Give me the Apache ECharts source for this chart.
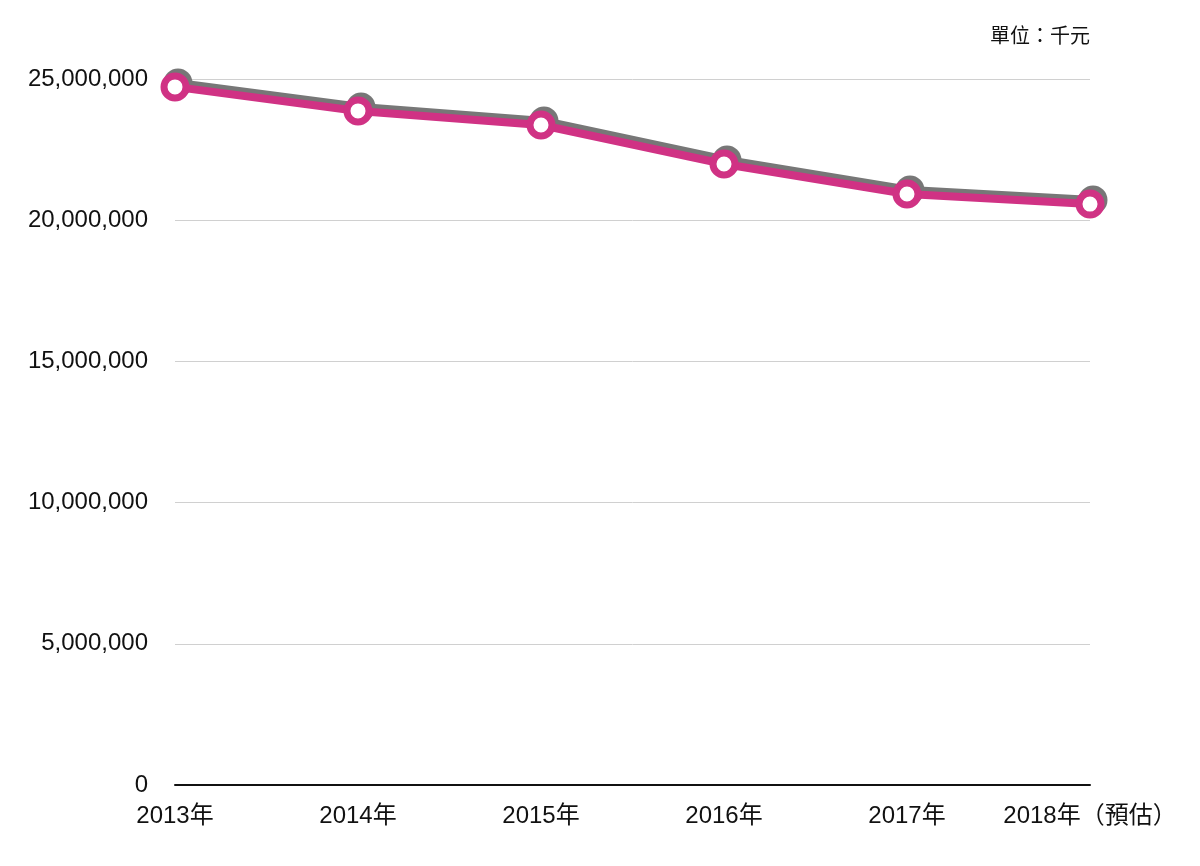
<!DOCTYPE html>
<html><head><meta charset="utf-8">
<script src="https://cdn.jsdelivr.net/npm/echarts@6/dist/echarts.min.js"></script>
<style>html,body{margin:0;padding:0;background:#fff}#c{width:1200px;height:866px}</style>
</head><body><div id="c"></div>
<script>
const categories = ['2013年','2014年','2015年','2016年','2017年','2018年（預估）'];
const values = [24720000, 23870000, 23370000, 21990000, 20930000, 20570000];
const unitLabel = '單位：千元';

const chart = echarts.init(document.getElementById('c'));
const font = '"Liberation Sans","Noto Sans CJK TC",sans-serif';
chart.setOption({
  animation: false,
  grid: {left: 175, right: 110, top: 79, bottom: 81},
  graphic: [{type:'text', right: 110, top: 25, style:{text: unitLabel, font: '20px "Noto Sans CJK TC",sans-serif', fill:'#111'}}],
  xAxis: {
    type: 'category', data: categories, boundaryGap: false,
    axisLine: {lineStyle: {color: '#111', width: 2}},
    axisTick: {show: false},
    axisLabel: {color: '#111', fontSize: 24, fontFamily: font, margin: 19, interval: 0}
  },
  yAxis: {
    type: 'value', min: 0, max: 25000000, interval: 5000000,
    axisLabel: {color: '#111', fontSize: 24, fontFamily: font, margin: 27,
      formatter: v => v.toLocaleString('en-US')},
    splitLine: {lineStyle: {color: '#d0d0d0', width: 1}},
    axisLine: {show: false}, axisTick: {show: false}
  },
  series: [{
    type: 'line', data: values, silent: true,
    symbol: 'circle', symbolSize: 29, symbolOffset: [3, -4],
    lineStyle: {opacity: 0},
    itemStyle: {color: '#777', borderWidth: 0},
    z: 2
  }, {
    type: 'line', data: values,
    symbol: 'circle', symbolSize: 22,
    lineStyle: {color: '#D03284', width: 8, shadowColor: '#777', shadowOffsetX: 3, shadowOffsetY: -4, shadowBlur: 0},
    itemStyle: {color: '#fff', borderColor: '#D03284', borderWidth: 7},
    z: 3
  }]
});
</script></body></html>
